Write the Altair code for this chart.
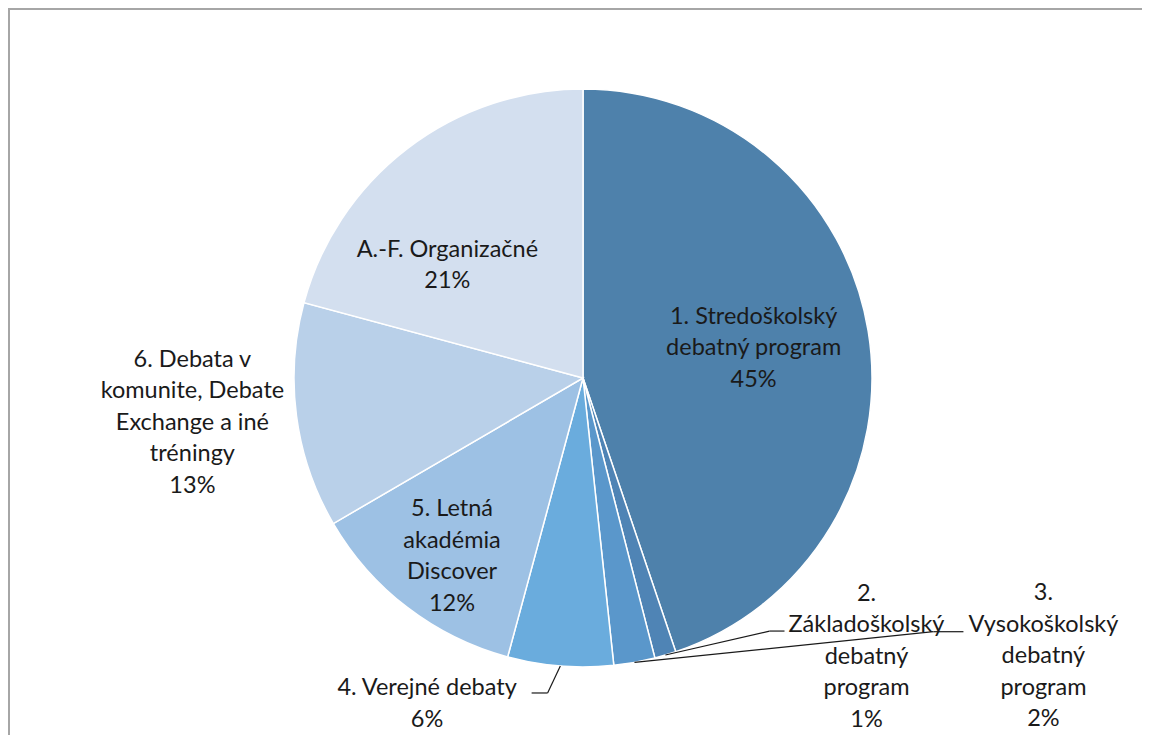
import math
import altair as alt
import pandas as pd

# ---- data ----
categories = [
    "1. Stredoškolský debatný program",
    "2. Základoškolský debatný program",
    "3. Vysokoškolský debatný program",
    "4. Verejné debaty",
    "5. Letná akadémia Discover",
    "6. Debata v komunite, Debate Exchange a iné tréningy",
    "A.-F. Organizačné",
]
values = [44.8, 1.2, 2.3, 5.9, 12.4, 12.6, 20.8]
label_lines = [
    "1. Stredoškolský\ndebatný program",
    "2.\nZákladoškolský\ndebatný\nprogram",
    "3.\nVysokoškolský\ndebatný\nprogram",
    "4. Verejné debaty",
    "5. Letná\nakadémia\nDiscover",
    "6. Debata v\nkomunite, Debate\nExchange a iné\ntréningy",
    "A.-F. Organizačné",
]
colors = ["#4E81AB", "#4F84B5", "#5A97CB", "#6AACDD", "#9DC1E4", "#B9D0E9", "#D3DFEF"]

# ---- layout (pixels) ----
CX, CY, R = 575, 370, 289
LH = 31.5
FS = 23.5
# label placement: radius from centre, dx, dy (block centre)
label_layout = [
    (177, -4, -1),
    (300, 198, -9),
    (300, 407, -17),
    (330, -130, -3),
    (222, 4, 2),
    (393, -1, -7),
    (177, -28, 28),
]
# leader lines: index -> (end dx, end dy, elbow dx) relative to label centre
leaders = {1: (-82, -25.5, -97), 2: (-80, -24.5, -110), 3: (104.5, -11, 120.5)}

total = sum(values)
starts, ends, mids = [], [], []
acc = 0.0
for v in values:
    starts.append(acc)
    ends.append(acc + v)
    mids.append(acc + v / 2)
    acc += v

labels = [f"{l}\n{round(v / total * 100)}%" for l, v in zip(label_lines, values)]
df = pd.DataFrame({
    "idx": list(range(len(categories))),
    "cat": categories,
    "value": values,
    "start": starts,
    "end": ends,
    "mid": mids,
    "label": labels,
})

theta_scale = alt.Scale(domain=[0, total], range=[0, 2 * math.pi])

arcs = alt.Chart(df).mark_arc(outerRadius=R, stroke="white", strokeWidth=1.5).encode(
    theta=alt.Theta("start:Q", scale=theta_scale),
    theta2="end:Q",
    color=alt.Color("cat:N", scale=alt.Scale(domain=categories, range=colors), legend=None),
    order=alt.Order("idx:Q"),
    x=alt.value(CX),
    y=alt.value(CY),
)

text_layers = []
for i, (r, dx, dy) in enumerate(label_layout):
    nlines = labels[i].count("\n") + 1
    t = alt.Chart(df).transform_filter(alt.datum.idx == i).mark_text(
        radius=r, dx=dx, dy=dy - (nlines - 1) * LH / 2, font="Lato", fontSize=FS,
        lineBreak="\n", lineHeight=LH, align="center", baseline="middle", color="#1a1a1a",
    ).encode(
        theta=alt.Theta("mid:Q", scale=theta_scale),
        text="label:N",
        x=alt.value(CX),
        y=alt.value(CY),
    )
    text_layers.append(t)

# leader line segments derived from slice mid-angles and label placement
segs = []
for i, (ex, ey, elx) in leaders.items():
    a = mids[i] / total * 2 * math.pi
    rx, ry = CX + R * math.sin(a), CY - R * math.cos(a)
    r, dx, dy = label_layout[i]
    lx, ly = CX + r * math.sin(a) + dx, CY - r * math.cos(a) + dy
    endx, endy = lx + ex, ly + ey
    elbx = lx + elx
    segs.append({"x": rx, "y": ry, "x2": elbx, "y2": endy})
    segs.append({"x": elbx, "y": endy, "x2": endx, "y2": endy})
seg_df = pd.DataFrame(segs)

leader = alt.Chart(seg_df).mark_rule(color="#1a1a1a", strokeWidth=1.2).encode(
    x=alt.X("x:Q", scale=None, axis=None),
    y=alt.Y("y:Q", scale=None, axis=None),
    x2="x2:Q",
    y2="y2:Q",
)

border_top = alt.Chart(df).mark_rule(color="#A6A6A6", strokeWidth=1.5).encode(
    x=alt.value(0), x2=alt.value(1142), y=alt.value(0.75)
)
border_left = alt.Chart(df).mark_rule(color="#A6A6A6", strokeWidth=1.5).encode(
    x=alt.value(0.75), y=alt.value(0), y2=alt.value(735)
)

chart = alt.layer(arcs, leader, *text_layers, border_top, border_left).properties(
    width=1134, height=727, autosize=alt.AutoSizeParams(type="none"), padding=0,
).configure_view(stroke=None)

chart.save("out.html", embed_options={"renderer": "svg", "actions": False})
